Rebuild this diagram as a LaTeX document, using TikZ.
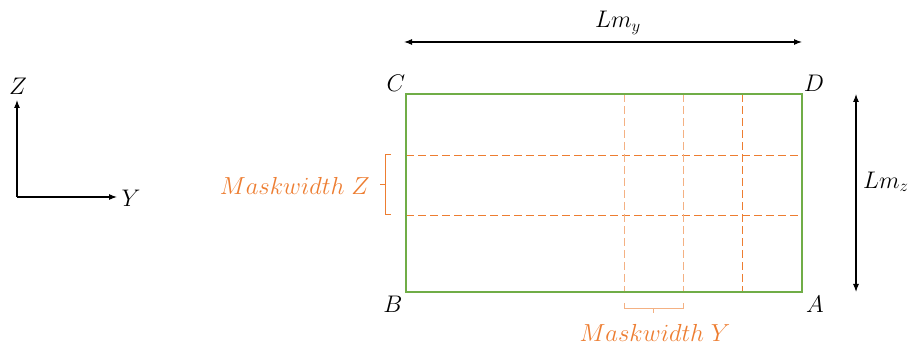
\documentclass[tikz,border=0pt]{standalone}
\usepackage{fix-cm}
\usepackage{tikz}
\usetikzlibrary{arrows.meta, positioning, calc}
\definecolor{maskgreen}{HTML}{70AD47}
\definecolor{maskorange}{HTML}{ED7D31}
\definecolor{masklight}{HTML}{F4B183}

\begin{document}
\begin{tikzpicture}[
    x=0.75pt, y=-0.75pt,
    frame/.style={draw=maskgreen, line width=1.5pt},
    gridline/.style={draw=maskorange, dash pattern=on 6pt off 3pt, line width=0.6pt},
    gridlight/.style={draw=masklight, dash pattern=on 6pt off 3pt, line width=0.6pt},
    arrow/.style={-{Latex[length=6pt, width=4.5pt]}, line width=0.8pt},
    dimarrow/.style={{Latex[length=6pt, width=4.5pt]}-{Latex[length=6pt, width=4.5pt]}, line width=0.8pt},
    brace/.style={draw=maskorange, line width=0.75pt},
    letter/.style={inner sep=0pt, font=\fontsize{18}{21}\selectfont},
    masklabel/.style={inner sep=0pt, text=maskorange, font=\fontsize{18.5}{21}\selectfont}
]
\useasboundingbox (0,0) rectangle (908,349);

% axes
\coordinate (origin) at (17,197);
\coordinate (ztip) at (17,100);
\coordinate (ytip) at (117,197);
\node[letter] (zlabel) at (18,86) {$Z$};
\node[letter] (ylabel) at (131,198) {$Y$};
\draw[arrow] (origin) -- (ztip);
\draw[arrow] (origin) -- (ytip);

% mask corners
\coordinate (B) at (406,292);
\coordinate (A) at (802,292);
\coordinate (C) at (406,94);
\coordinate (D) at (802,94);
\node[letter] (labelC) at (396,83) {$C$};
\node[letter] (labelD) at (814,83) {$D$};
\node[letter] (labelB) at (393,304) {$B$};
\node[letter] (labelA) at (815,304) {$A$};

% grid of mask windows
\draw[gridline] (406,155) -- (802,155);
\draw[gridline] (406,215) -- (802,215);
\foreach \x in {624,683} \draw[gridlight] (\x,94) -- (\x,292);
\draw[gridline] (742,94) -- (742,292);
\draw[frame] (B) -- (A) -- (D) -- (C) -- cycle;

% dimensions
\coordinate (lyleft) at (404,42);
\coordinate (lyright) at (802,42);
\node[letter] (lmy) at (618,23) {$Lm_y$};
\draw[dimarrow] (lyleft) -- (lyright);

\coordinate (lztop) at (856,94);
\coordinate (lzbottom) at (856,292);
\node[letter] (lmz) at (886,182) {$Lm_z$};
\draw[dimarrow] (lztop) -- (lzbottom);

% braces
\draw[brace] (391,155) -- (385,155) -- (385,215) -- (391,215);
\draw[brace] (385,185) -- (380,185);
\node[masklabel, anchor=east] (maskz) at (370,186) {$Maskwidth\;Z$};

\draw[brace, draw=masklight] (624,303) -- (624,309) -- (683,309) -- (683,303);
\draw[brace, draw=masklight] (653.5,309) -- (653.5,313);
\node[masklabel] (masky) at (655,333) {$Maskwidth\;Y$};

\end{tikzpicture}
\end{document}
